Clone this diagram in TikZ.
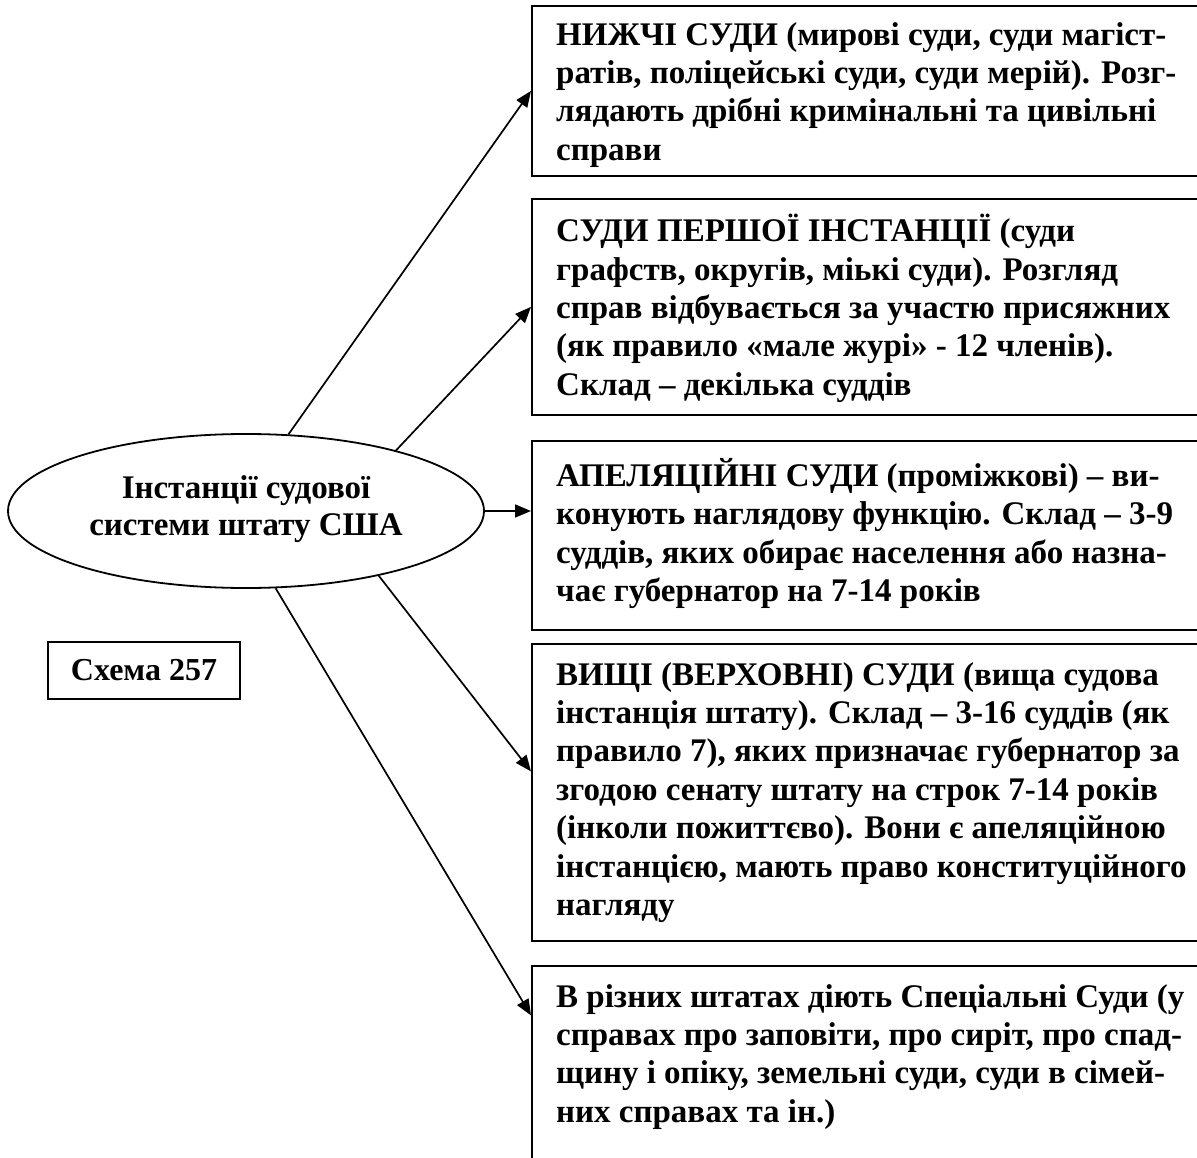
\documentclass[tikz,border=0pt]{standalone}
\usepackage{fontspec}
\setmainfont{Liberation Serif}
\usetikzlibrary{shapes.geometric,arrows.meta,calc}
\tikzset{
  box/.style={draw,line width=1.8pt,minimum width=670pt,anchor=north west,inner sep=0pt},
  txt/.style={anchor=north west,align=left,inner sep=0pt,font=\bfseries\fontsize{33}{38.4}\selectfont},
  conn/.style={line width=1.7pt,-{Triangle[length=16pt,width=13pt]}}
}
\begin{document}
\begin{tikzpicture}[x=1pt,y=-1pt]
\useasboundingbox (0,0) rectangle (1197,1158);
\node[box,minimum height=170pt] (b1) at (531,5) {};
\node[box,minimum height=216pt] (b2) at (531,198) {};
\node[box,minimum height=189pt] (b3) at (531,440) {};
\node[box,minimum height=297pt] (b4) at (531,643) {};
\node[box,minimum height=195pt] (b5) at (531,965) {};
\node[txt] (t1) at (556,22) {НИЖЧІ СУДИ (мирові суди, суди магіст-\\ратів, поліцейські суди, суди мерій). Розг-\\лядають дрібні кримінальні та цивільні\\справи};
\node[txt] (t2) at (556,214) {СУДИ ПЕРШОЇ ІНСТАНЦІЇ (суди\\графств, округів, міькі суди). Розгляд\\справ відбувається за участю присяжних\\(як правило «мале журі» - 12 членів).\\Склад – декілька суддів};
\node[txt] (t3) at (556,458) {АПЕЛЯЦІЙНІ СУДИ (проміжкові) – ви-\\конують наглядову функцію. Склад – 3-9\\суддів, яких обирає населення або назна-\\чає губернатор на 7-14 років};
\node[txt] (t4) at (556,662) {ВИЩІ (ВЕРХОВНІ) СУДИ (вища судова\\інстанція штату). Склад – 3-16 суддів (як\\правило 7), яких призначає губернатор за\\згодою сенату штату на строк 7-14 років\\(інколи пожиттєво). Вони є апеляційною\\інстанцією, мають право конституційного\\нагляду};
\node[txt] (t5) at (556,984) {В різних штатах діють Спеціальні Суди (у\\справах про заповіти, про сиріт, про спад-\\щину і опіку, земельні суди, суди в сімей-\\них справах та ін.)};
\node[draw,ellipse,line width=1.8pt,minimum width=476pt,minimum height=154pt,inner sep=0pt] (e) at (246,511) {};
\node[align=center,inner sep=0pt,font=\bfseries\fontsize{33}{37}\selectfont] (et) at (246,509) {Інстанції судової\\системи штату США};
\node[draw,line width=1.8pt,minimum width=192pt,minimum height=57pt,font=\bfseries\fontsize{32}{36}\selectfont] (s) at (144,670.5) {Схема 257};
\draw[conn] (e.61.7) -- (b1.west);
\draw[conn] (e.22.5) -- (b2.west);
\draw[conn] (e.east) -- (e.east -| b3.west);
\draw[conn] (e.-26.9) -- ([yshift=21pt]b4.west);
\draw[conn] (e.-69.1) -- ([yshift=48pt]b5.west);
\end{tikzpicture}
\end{document}
